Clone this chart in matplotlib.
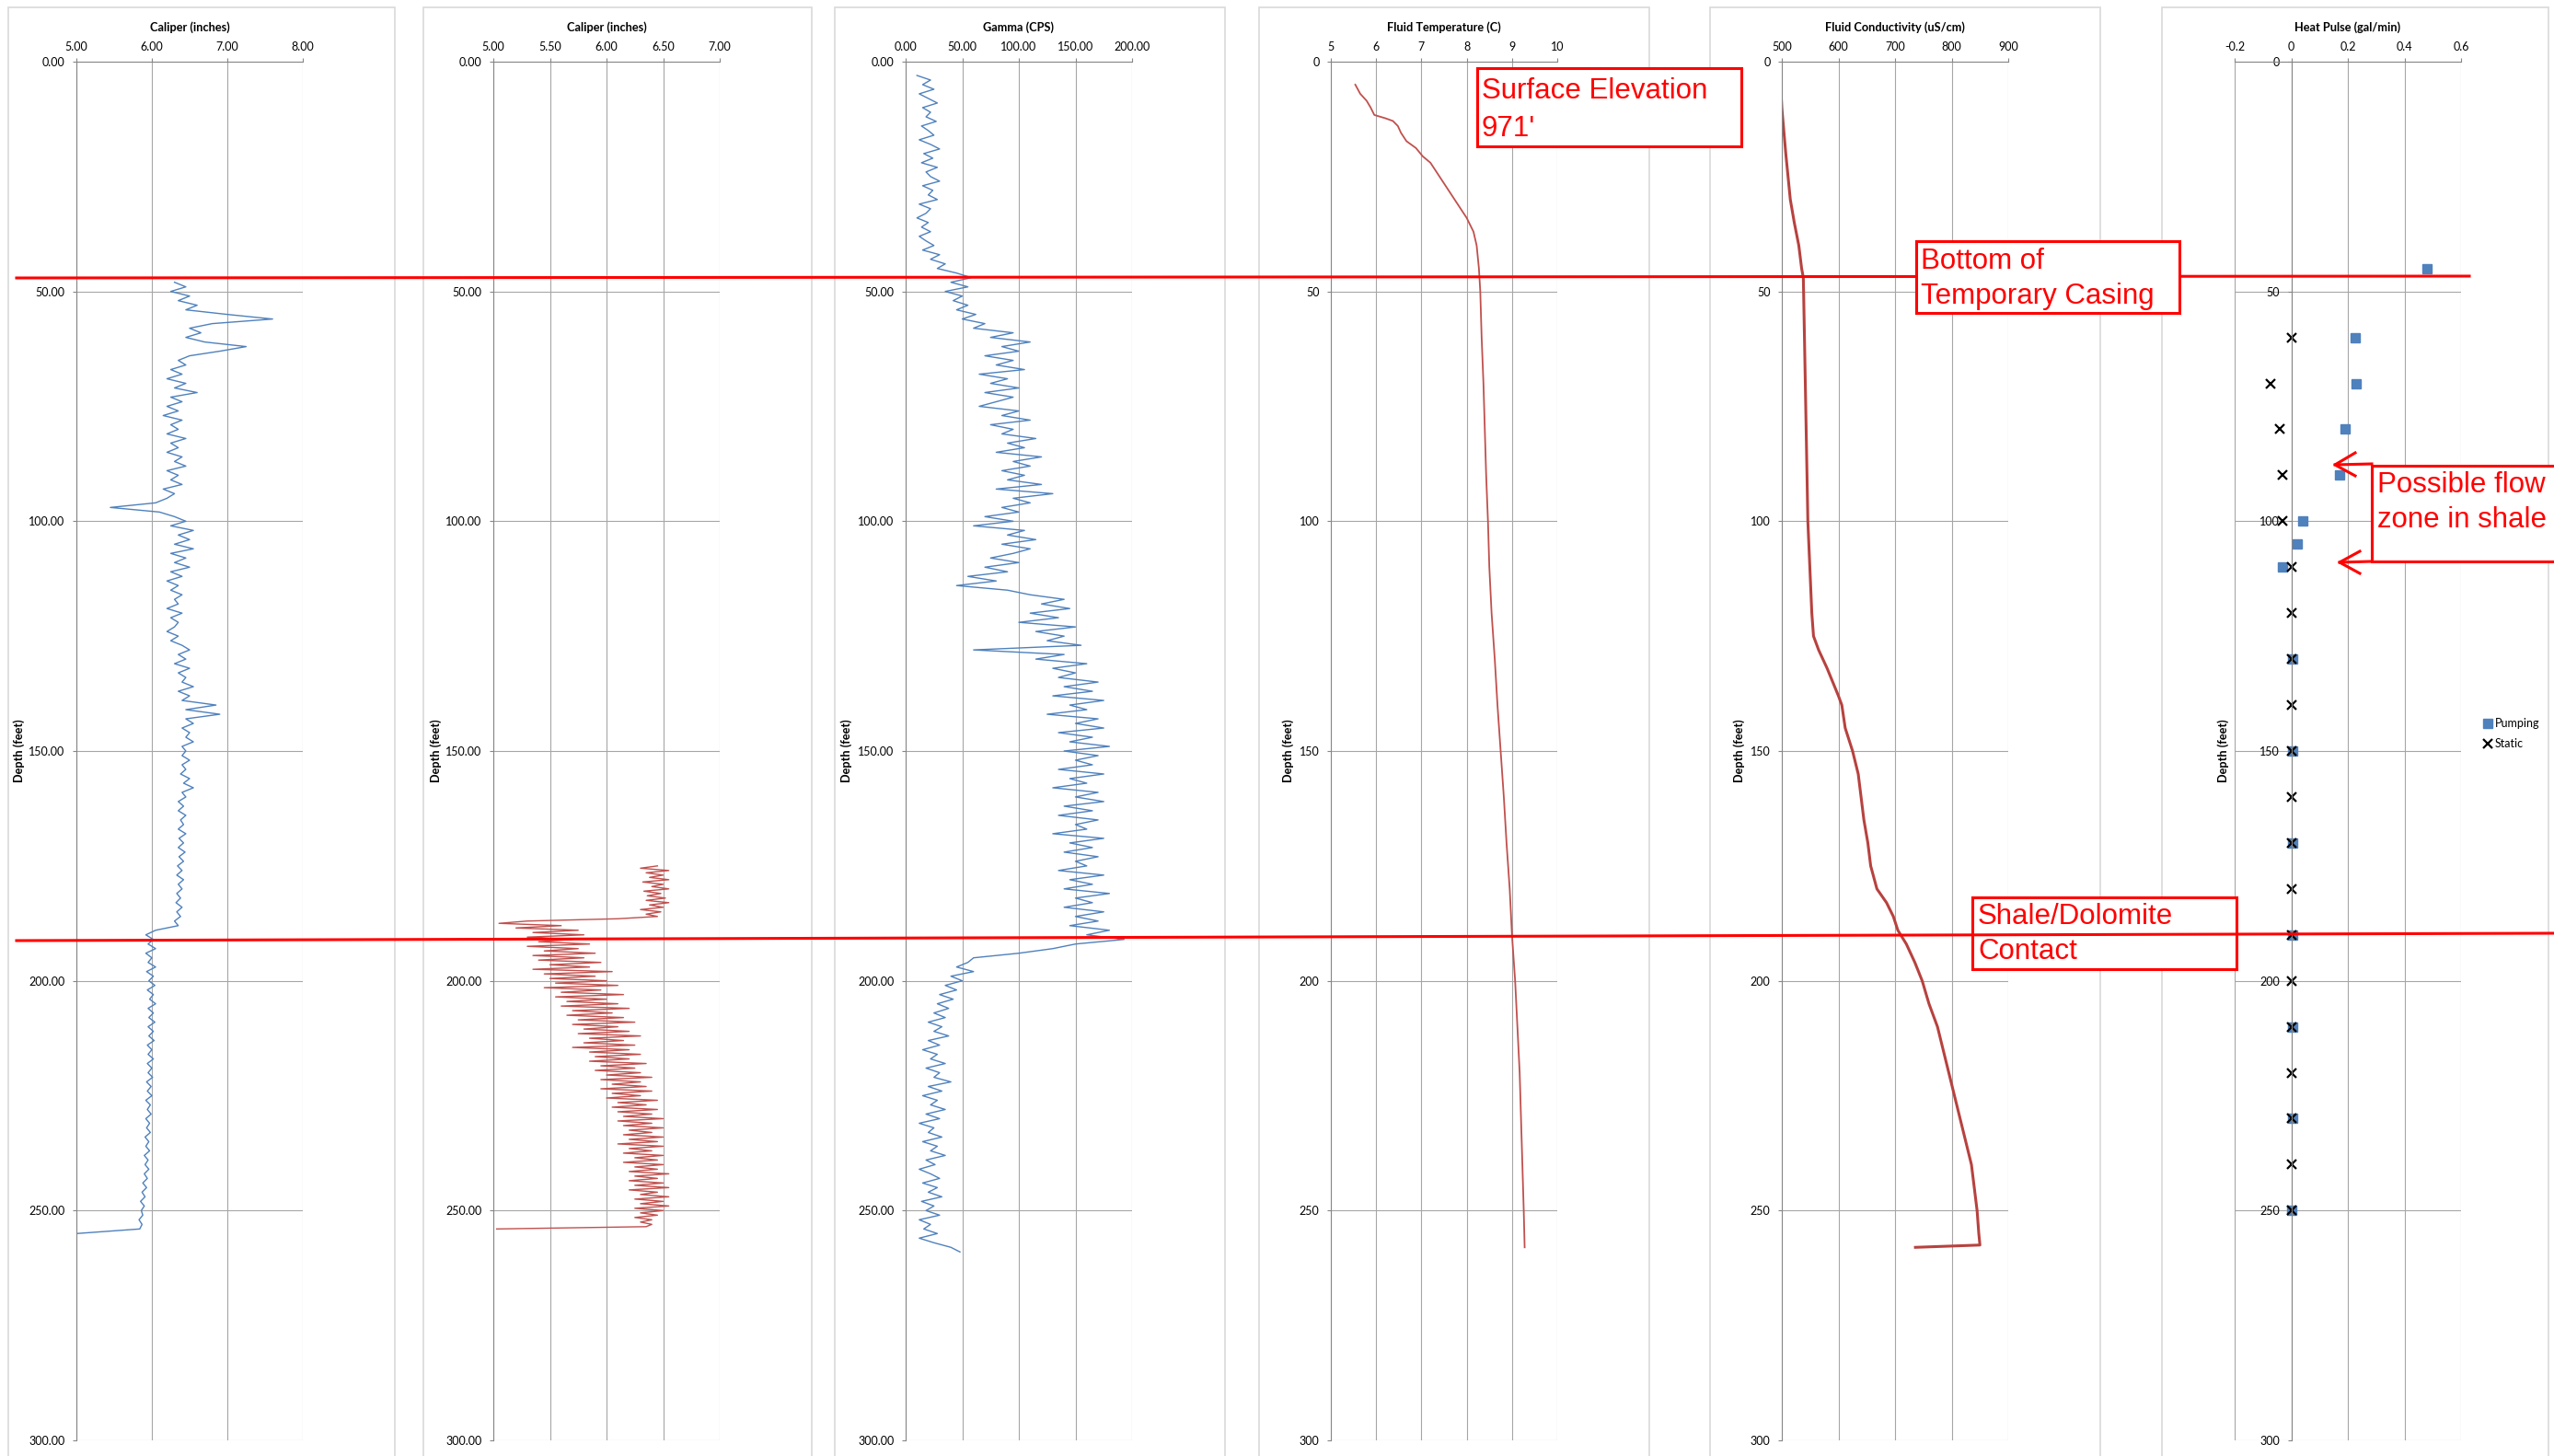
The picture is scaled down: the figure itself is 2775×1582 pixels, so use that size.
import numpy as np
import matplotlib.pyplot as plt
from matplotlib.patches import Rectangle
from matplotlib.lines import Line2D

# ---- data read off the logs (depth in feet) ----
# caliper 1, one reading per foot from 48 to 255 ft
cal1_depth = np.arange(48, 256, 1)
cal1 = [6.30, 6.45, 6.25, 6.50, 6.35, 6.60, 6.45, 7.00, 7.60, 6.80,  # 48-57
        6.50, 6.65, 6.45, 6.70, 7.25, 6.90, 6.50, 6.35, 6.45, 6.25,  # 58-67
        6.40, 6.20, 6.45, 6.30, 6.60, 6.25, 6.40, 6.20, 6.35, 6.15,  # 68-77
        6.40, 6.25, 6.35, 6.20, 6.45, 6.25, 6.35, 6.20, 6.40, 6.30,  # 78-87
        6.45, 6.20, 6.35, 6.25, 6.40, 6.15, 6.30, 6.20, 6.05, 5.45,  # 88-97
        6.10, 6.30, 6.45, 6.25, 6.55, 6.35, 6.50, 6.30, 6.55, 6.25,  # 98-107
        6.45, 6.30, 6.50, 6.25, 6.40, 6.20, 6.35, 6.25, 6.40, 6.30,  # 108-117
        6.35, 6.20, 6.40, 6.25, 6.35, 6.30, 6.20, 6.35, 6.25, 6.40,  # 118-127
        6.50, 6.35, 6.45, 6.30, 6.50, 6.35, 6.45, 6.40, 6.55, 6.35,  # 128-137
        6.50, 6.40, 6.85, 6.45, 6.90, 6.45, 6.55, 6.40, 6.50, 6.45,  # 138-147
        6.55, 6.40, 6.45, 6.40, 6.50, 6.40, 6.45, 6.38, 6.50, 6.42,  # 148-157
        6.55, 6.40, 6.45, 6.35, 6.42, 6.35, 6.45, 6.38, 6.42, 6.35,  # 158-167
        6.45, 6.36, 6.42, 6.35, 6.44, 6.36, 6.42, 6.34, 6.40, 6.33,  # 168-177
        6.42, 6.35, 6.40, 6.33, 6.38, 6.32, 6.40, 6.33, 6.38, 6.30,  # 178-187
        6.35, 6.05, 5.92, 6.02, 5.95, 6.05, 5.92, 6.00, 5.95, 6.05,  # 188-197
        5.93, 6.02, 5.96, 6.04, 5.94, 6.02, 5.97, 6.05, 5.95, 6.02,  # 198-207
        5.96, 6.04, 5.95, 6.02, 5.96, 6.03, 5.94, 6.00, 5.95, 6.02,  # 208-217
        5.94, 6.00, 5.95, 6.01, 5.93, 5.99, 5.94, 6.00, 5.92, 5.98,  # 218-227
        5.94, 5.99, 5.92, 5.97, 5.93, 5.98, 5.91, 5.96, 5.92, 5.97,  # 228-237
        5.90, 5.95, 5.91, 5.96, 5.90, 5.94, 5.88, 5.93, 5.87, 5.91,  # 238-247
        5.85, 5.90, 5.86, 5.88, 5.83, 5.87, 5.84, 5.00]              # 248-255

# caliper 2, every half foot from 175 to 254 ft
cal2_depth = np.arange(175, 254.5, 0.5)
cal2 = [6.45, 6.30, 6.55, 6.35, 6.50, 6.38, 6.55, 6.32, 6.50, 6.40,  # 175-179.5
        6.55, 6.33, 6.48, 6.36, 6.52, 6.35, 6.55, 6.38, 6.50, 6.30,  # 180-184.5
        6.48, 6.35, 6.45, 6.10, 5.30, 5.05, 5.60, 5.20, 5.75, 5.35,  # 185-189.5
        5.80, 5.30, 5.70, 5.40, 5.85, 5.30, 5.75, 5.45, 5.90, 5.35,  # 190-194.5
        5.80, 5.40, 5.95, 5.50, 5.85, 5.35, 6.05, 5.45, 5.90, 5.50,  # 195-199.5
        6.00, 5.55, 6.10, 5.45, 5.95, 5.60, 6.15, 5.55, 6.00, 5.65,  # 200-204.5
        6.10, 5.60, 6.20, 5.70, 6.05, 5.65, 6.15, 5.75, 6.25, 5.70,  # 205-209.5
        6.10, 5.80, 6.20, 5.75, 6.30, 5.85, 6.15, 5.80, 6.25, 5.70,  # 210-214.5
        6.20, 5.85, 6.30, 5.90, 6.20, 5.85, 6.35, 5.95, 6.25, 5.90,  # 215-219.5
        6.30, 6.00, 6.40, 5.95, 6.30, 6.05, 6.35, 5.95, 6.40, 6.05,  # 220-224.5
        6.30, 6.00, 6.45, 6.10, 6.35, 6.05, 6.45, 6.10, 6.40, 6.15,  # 225-229.5
        6.50, 6.10, 6.40, 6.15, 6.50, 6.20, 6.40, 6.15, 6.50, 6.20,  # 230-234.5
        6.45, 6.10, 6.50, 6.20, 6.40, 6.15, 6.50, 6.25, 6.45, 6.15,  # 235-239.5
        6.50, 6.25, 6.45, 6.20, 6.55, 6.25, 6.45, 6.20, 6.50, 6.25,  # 240-244.5
        6.55, 6.20, 6.45, 6.30, 6.55, 6.25, 6.50, 6.30, 6.55, 6.25,  # 245-249.5
        6.50, 6.30, 6.45, 6.25, 6.40, 6.30, 6.40, 6.35, 5.03]        # 250-254

# natural gamma, one reading per foot from 3 to 259 ft
gamma_depth = np.arange(3, 260, 1)
gamma = [10, 22, 15, 25, 12, 20, 28, 15, 22, 18,         # 3-12
         27, 14, 20, 25, 12, 22, 30, 16, 24, 14,         # 13-22
         28, 18, 22, 30, 15, 24, 20, 28, 12, 22,         # 23-32
         18, 10, 20, 14, 22, 12, 18, 25, 15, 30,         # 33-42
         22, 35, 28, 45, 58, 40, 55, 35, 50, 42,         # 43-52
         55, 45, 62, 50, 70, 60, 95, 75, 110, 85,        # 53-62
         100, 70, 95, 80, 105, 65, 90, 75, 100, 70,      # 63-72
         95, 80, 65, 100, 85, 110, 75, 95, 85, 115,      # 73-82
         90, 105, 80, 120, 95, 110, 85, 105, 90, 120,    # 83-92
         80, 130, 95, 110, 85, 100, 70, 95, 60, 105,     # 93-102
         90, 115, 85, 110, 95, 75, 100, 70, 90, 55,      # 103-112
         80, 45, 90, 110, 140, 120, 145, 110, 135, 100,  # 113-122
         150, 115, 140, 125, 155, 60, 140, 115, 160, 130,  # 123-132
         150, 135, 170, 140, 165, 130, 175, 145, 160, 125,  # 133-142
         170, 150, 175, 135, 165, 145, 180, 140, 170, 150,  # 143-152
         165, 135, 175, 145, 160, 130, 170, 150, 175, 140,  # 153-162
         165, 135, 170, 150, 160, 130, 175, 145, 165, 140,  # 163-172
         170, 150, 160, 135, 175, 145, 165, 140, 180, 150,  # 173-182
         165, 140, 175, 150, 170, 145, 180, 160, 193, 150,  # 183-192
         130, 100, 60, 55, 45, 60, 40, 50, 35, 45,       # 193-202
         30, 42, 28, 38, 25, 35, 20, 32, 25, 38,         # 203-212
         20, 30, 15, 28, 22, 35, 18, 30, 25, 40,         # 213-222
         20, 32, 15, 28, 22, 35, 18, 30, 12, 25,         # 223-232
         20, 32, 15, 28, 22, 35, 18, 26, 12, 22,         # 233-242
         30, 15, 28, 20, 32, 14, 25, 18, 30, 12,         # 243-252
         22, 16, 28, 12, 25, 40, 48]                     # 253-259

temp_depth = [5, 7, 8.5, 10, 11.6, 12.3, 12.9, 14, 15.5, 17.3, 18.8, 20.6, 22, 25, 28, 31, 34, 37,
              40, 45, 50, 60, 70, 80, 90, 100, 110, 120, 130, 140, 150, 160, 170, 180, 190, 200,
              210, 220, 230, 240, 250, 258]
temp = [5.54, 5.65, 5.79, 5.88, 5.96, 6.20, 6.37, 6.48, 6.55, 6.67, 6.88, 7.03, 7.20, 7.40, 7.60,
        7.80, 8.00, 8.15, 8.22, 8.27, 8.30, 8.33, 8.37, 8.40, 8.43, 8.47, 8.50, 8.55, 8.62, 8.68,
        8.75, 8.82, 8.88, 8.95, 9.00, 9.07, 9.12, 9.17, 9.20, 9.23, 9.26, 9.28]

cond_depth = [3.5, 10, 20, 30, 35, 40, 45, 47, 60, 80, 100, 120, 125, 128, 132, 135, 138, 140, 145,
              150, 155, 160, 165, 170, 175, 180, 183, 186, 189, 192, 196, 200, 205, 210, 215, 220,
              225, 230, 235, 240, 245, 250, 255, 257.5, 258]
cond = [497, 500, 507, 515, 522, 530, 535, 538, 540, 543, 546, 553, 556, 565, 580, 590, 600, 606,
        612, 625, 635, 640, 645, 652, 657, 668, 685, 697, 705, 720, 735, 748, 760, 775, 785, 795,
        805, 815, 825, 835, 840, 845, 848, 850, 736]

pump_depth = [45, 60, 70, 80, 90, 100, 105, 110, 130, 150, 170, 190, 210, 230, 250]
pump = [0.48, 0.225, 0.229, 0.19, 0.17, 0.04, 0.02, -0.03, 0.005, 0.005, 0.005, 0.005, 0.005, 0.005, 0.0]
static_depth = [60, 70, 80, 90, 100, 110, 120, 130, 140, 150, 160, 170, 180, 190, 200, 210, 220,
                230, 240, 250]
static = [0.0, -0.074, -0.04, -0.03, -0.03, 0.0, 0.0, 0.0, 0.0, 0.0, 0.0, 0.0, 0.0, 0.0, 0.0,
          0.0, 0.0, 0.0, 0.0, 0.0]

# ---- figure ----
W, H = 2775, 1582
fig = plt.figure(figsize=(W / 100, H / 100), dpi=100)
plt.rcParams['font.family'] = ['Lato', 'DejaVu Sans']

def fx(x):
    return x / W

def fy(y):
    return 1 - y / H

blue = '#4F81BD'
red = '#C0504D'
grid_c = '#A6A6A6'
axis_c = '#868686'

plot_left = [83, 536, 984, 1446, 1936, 2428]
frames = [(9, 429), (460, 882), (907, 1331), (1368, 1792), (1858, 2282), (2349, 2769)]
label_x = [21, 474, 920, 1400, 1890, 2416]
titles = ['Caliper (inches)', 'Caliper (inches)', 'Gamma (CPS)', 'Fluid Temperature (C)',
          'Fluid Conductivity (uS/cm)', 'Heat Pulse (gal/min)']
xlims = [(5, 8), (5, 7), (0, 200), (5, 10), (500, 900), (-0.2, 0.6)]
xticks = [[5, 6, 7, 8], [5, 5.5, 6, 6.5, 7], [0, 50, 100, 150, 200], [5, 6, 7, 8, 9, 10],
          [500, 600, 700, 800, 900], [-0.2, 0, 0.2, 0.4, 0.6]]
xlabels = [['%.2f' % v for v in xticks[0]], ['%.2f' % v for v in xticks[1]],
           ['%.2f' % v for v in xticks[2]], [str(v) for v in xticks[3]],
           [str(v) for v in xticks[4]], ['-0.2', '0', '0.2', '0.4', '0.6']]
yticks = [0, 50, 100, 150, 200, 250, 300]

# chart area borders
for x0, x1 in frames:
    fig.add_artist(Rectangle((fx(x0), -0.01), fx(x1) - fx(x0), fy(8) + 0.01,
                             transform=fig.transFigure, fill=False, ec='#D9D9D9', lw=1.2))

axes = []
for i in range(6):
    ax = fig.add_axes([fx(plot_left[i]), fy(1565), 246 / W, 1498 / H])
    ax.set_facecolor('none')
    ax.set_xlim(*xlims[i])
    ax.set_ylim(300, 0)
    ax.xaxis.tick_top()
    ax.set_xticks(xticks[i])
    ax.set_xticklabels(xlabels[i])
    ax.set_yticks(yticks)
    if i < 3:
        ax.set_yticklabels(['%.2f' % v for v in yticks])
    else:
        ax.set_yticklabels([str(v) for v in yticks])
    ax.grid(True, color=grid_c, lw=0.8)
    ax.set_axisbelow(True)
    for s in ['right', 'bottom']:
        ax.spines[s].set_visible(False)
    for s in ['top', 'left']:
        ax.spines[s].set_color(axis_c)
        ax.spines[s].set_linewidth(0.8)
    ax.tick_params(axis='x', direction='out', length=3, pad=4, color=axis_c, labelsize=9)
    ax.tick_params(axis='y', direction='out', length=3, pad=6, color=axis_c, labelsize=9)
    ax.text(0.5, 1 + 37 / 1498, titles[i], transform=ax.transAxes, ha='center', va='center',
            fontsize=9.2, fontweight='bold')
    fig.text(fx(label_x[i]), fy(816), 'Depth (feet)', rotation=90, ha='center', va='center',
             fontsize=9.2, fontweight='bold')
    axes.append(ax)

ax1, ax2, ax3, ax4, ax5, ax6 = axes

ax1.plot(cal1, cal1_depth, color=blue, lw=1.0)
ax2.plot(cal2, cal2_depth, color=red, lw=1.0)
ax3.plot(gamma, gamma_depth, color=blue, lw=1.0)
ax4.plot(temp, temp_depth, color=red, lw=1.3)
ax5.plot(cond, cond_depth, color='#B7423F', lw=2.2)

# heat pulse: y axis crosses at x = 0
ax6.spines['left'].set_position(('data', 0))
ax6.xaxis.grid(True, color=grid_c, lw=0.8)
ax6.axvline(-0.2, color=grid_c, lw=0.8, zorder=0)
p1, = ax6.plot(pump, pump_depth, 's', color=blue, ms=7.5, ls='none', label='Pumping')
p2, = ax6.plot(static, static_depth, 'x', color='black', ms=7, mew=1.6, ls='none', label='Static')
fig.legend([p1, p2], ['Pumping', 'Static'], loc='center left',
           bbox_to_anchor=(fx(2692), fy(797)), frameon=False, fontsize=9,
           handlelength=0.7, handletextpad=0.3, borderpad=0, labelspacing=0.8)

# ---- annotations ----
ann_red = '#FF0000'
ann_font = ['Liberation Sans', 'DejaVu Sans']

def box(x0, y0, x1, y1, z):
    fig.add_artist(Rectangle((fx(x0), fy(y1)), fx(x1) - fx(x0), fy(y0) - fy(y1),
                             transform=fig.transFigure, fc='white', ec=ann_red, lw=2.2, zorder=z))

def line(xs, ys, z):
    fig.add_artist(Line2D([fx(x) for x in xs], [fy(y) for y in ys], transform=fig.transFigure,
                          color=ann_red, lw=2.2, zorder=z))

def label(x, y, s, sp=1.33):
    fig.text(fx(x), fy(y), s, ha='left', va='baseline', color=ann_red, fontsize=22.5,
             family=ann_font, zorder=10, linespacing=sp)

# bottom of temporary casing
line([18, 2683], [302, 300], 3)
box(2082, 262, 2368, 340, 4)
label(2087, 330, 'Bottom of\nTemporary Casing')

# shale / dolomite contact
box(2143, 975, 2430, 1053, 3)
line([18, 2775], [1022, 1014], 4)
label(2149, 1042, 'Shale/Dolomite\nContact')

# surface elevation
box(1605, 74, 1892, 159, 4)
label(1610, 148, "Surface Elevation\n971'", sp=1.46)

# possible flow zone with arrows
box(2577, 506, 2800, 610, 4)
label(2583, 573, 'Possible flow\nzone in shale')
line([2577, 2537], [504, 505], 5)
line([2559, 2537, 2559], [492, 505, 517], 5)
line([2577, 2542], [610, 611], 5)
line([2564, 2542, 2564], [599, 611, 623], 5)

fig.savefig('out.png', dpi=100)
